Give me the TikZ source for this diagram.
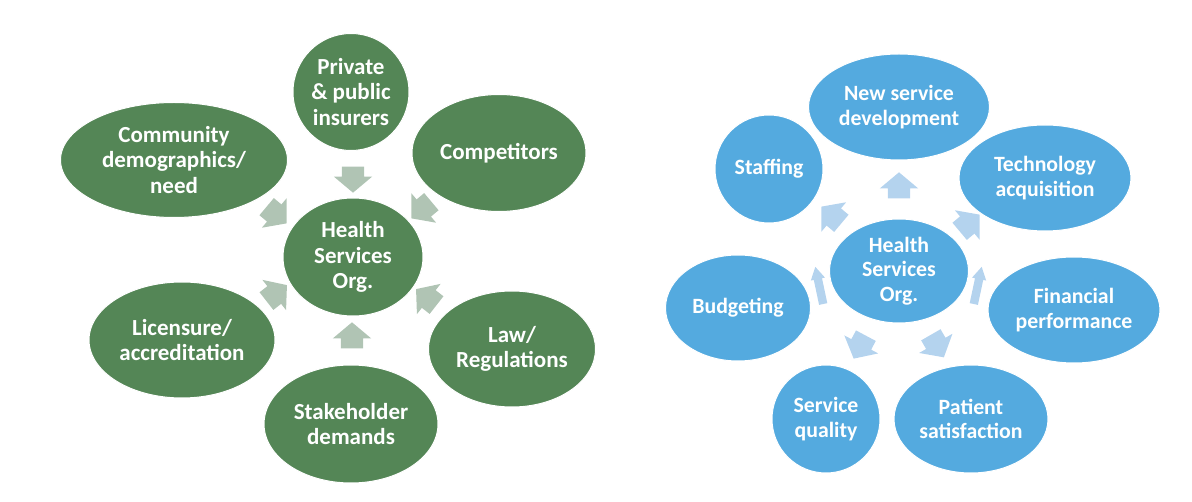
\documentclass[tikz,border=0pt]{standalone}
\usepackage{fontspec}
\setmainfont{Carlito}
\usetikzlibrary{shapes.geometric,shapes.arrows}
\definecolor{gfill}{RGB}{84,134,86}
\definecolor{garrow}{RGB}{176,196,180}
\definecolor{bfill}{RGB}{84,170,223}
\definecolor{barrow}{RGB}{180,211,238}
\begin{document}
\begin{tikzpicture}[x=1pt,y=-1pt,
  lbl/.style={text=white,align=center},
  gell/.style={ellipse,fill=gfill,draw=white,line width=1pt,inner sep=0pt,lbl,
    font=\bfseries\fontsize{23}{25.5}\selectfont},
  bell/.style={ellipse,fill=bfill,draw=white,line width=1pt,inner sep=0pt,lbl,
    font=\bfseries\fontsize{21.8}{24.5}\selectfont},
  blockarrow/.style={single arrow,inner xsep=0pt,inner ysep=11pt,minimum height=26,
    minimum width=38,single arrow head extend=8,single arrow tip angle=100},
  garr/.style={blockarrow,fill=garrow},
  barr/.style={blockarrow,fill=barrow},
  thinarr/.style={single arrow,inner xsep=0pt,inner ysep=4pt,minimum height=38,
    minimum width=14,single arrow head extend=3,single arrow tip angle=60,fill=barrow}]
\useasboundingbox (0,0) rectangle (1192,502);
% ---------- left diagram: arrows ----------
\node[garr,rotate=-90]  (ga1) at (353,175) {};
\node[garr,rotate=-40]  (ga2) at (273,212) {};
\node[garr,rotate=-140] (ga3) at (425,207) {};
\node[garr,rotate=38]   (ga4) at (273,296) {};
\node[garr,rotate=142]  (ga5) at (430,300) {};
\node[garr,rotate=90]   (ga6) at (352,340) {};
% ---------- left diagram: ellipses ----------
\node[gell,minimum width=116,minimum height=117] (ins) at (351,92) {Private\\\& public\\insurers};
\node[gell,minimum width=227,minimum height=115] (com) at (174,160) {Community\\demographics/\\need};
\node[gell,minimum width=174,minimum height=117] (cmp) at (499,153) {Competitors};
\node[gell,minimum width=140,minimum height=118] (hso) at (353,257) {Health\\Services\\Org.};
\node[gell,minimum width=186,minimum height=116] (lic) at (182,340) {Licensure/\\accreditation};
\node[gell,minimum width=167,minimum height=116] (law) at (512,349) {Law/\\Regulations};
\node[gell,minimum width=174,minimum height=118] (stk) at (351,424) {Stakeholder\\demands};
% ---------- right diagram: arrows ----------
\node[barr,rotate=90]   (ba1) at (899,190) {};
\node[barr,rotate=140]  (ba2) at (835,218) {};
\node[barr,rotate=40]   (ba3) at (966,226) {};
\node[thinarr,rotate=102] (ba4) at (820,289) {};
\node[thinarr,rotate=78]  (ba5) at (977,289) {};
\node[barr,rotate=-118] (ba6) at (862,343) {};
\node[barr,rotate=-60]  (ba7) at (935,342) {};
% ---------- right diagram: ellipses ----------
\node[bell,minimum width=181,minimum height=106] (nsd) at (899,107) {New service\\development};
\node[bell,minimum width=108,minimum height=108] (stf) at (769,169) {Staffing};
\node[bell,minimum width=172,minimum height=106] (tec) at (1045,178) {Technology\\acquisition};
\node[bell,minimum width=139,minimum height=104] (hsr) at (899,271) {Health\\Services\\Org.};
\node[bell,minimum width=145,minimum height=106] (bud) at (738,308) {Budgeting};
\node[bell,minimum width=172,minimum height=106] (fin) at (1074,310) {Financial\\performance};
\node[bell,minimum width=108,minimum height=108] (sq)  at (826,419) {Service\\quality};
\node[bell,minimum width=154,minimum height=108] (pat) at (971,419) {Patient\\satisfaction};
\end{tikzpicture}
\end{document}
